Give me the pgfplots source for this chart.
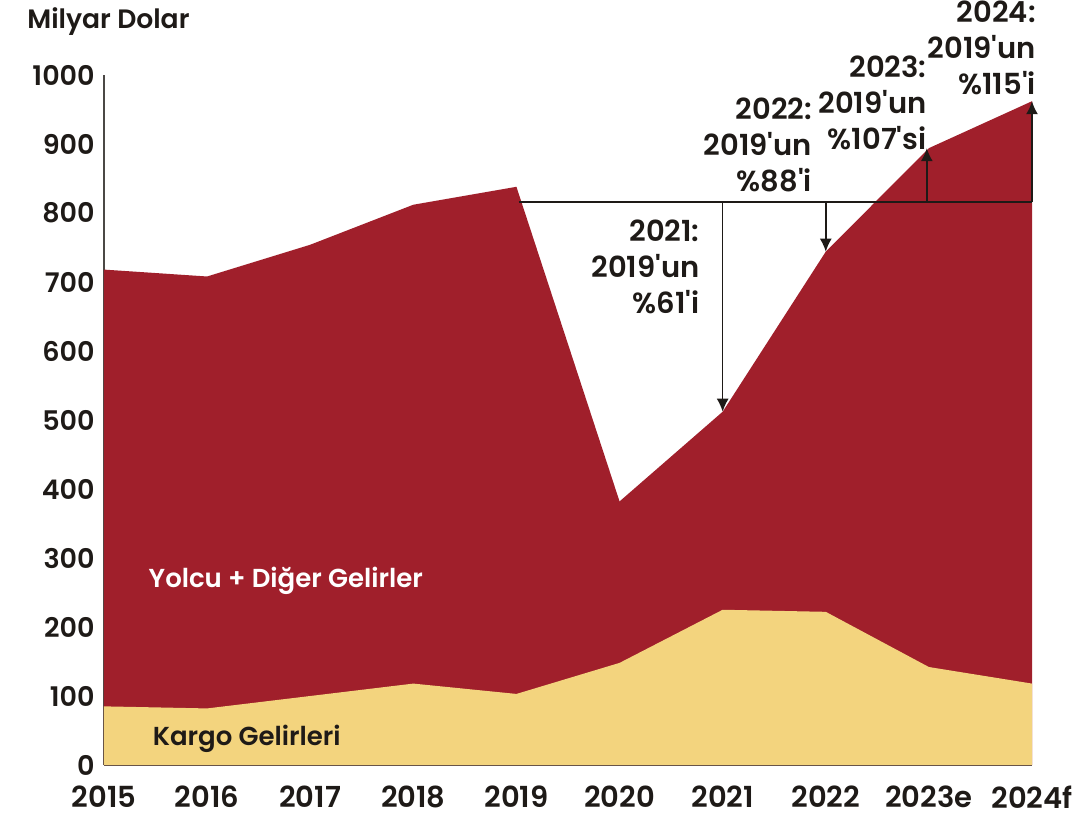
\documentclass[border=0pt]{standalone}
\usepackage{fontspec}
\usepackage{pgfplots}
\pgfplotsset{compat=1.18}
\usetikzlibrary{arrows.meta}
\setmainfont{Poppins}
\newfontfamily\pop{Poppins SemiBold}
\definecolor{pasred}{HTML}{A01F2B}
\definecolor{cargo}{HTML}{F3D47E}
\definecolor{ink}{HTML}{1E1A17}
\begin{document}
\begin{tikzpicture}
\begin{axis}[
  at={(0,0)}, anchor=south west,
  scale only axis, width=464pt, height=345pt,
  xmin=0, xmax=9, ymin=0, ymax=1000,
  axis x line=bottom, axis y line=left,
  x axis line style={-, line width=1.4pt, draw=ink!80},
  y axis line style={-, line width=0.7pt, draw=ink!80},
  xtick={0,...,9},
  xticklabels={2015,2016,2017,2018,2019,2020,2021,2022,2023e,2024f},
  ytick={0,100,...,1000},
  major tick length=0pt,
  /pgf/number format/assume math mode=true,
  /pgf/number format/1000 sep={},
  yticklabel style={font=\pop\fontsize{13.5}{13.5}\selectfont, text=ink, inner sep=0pt, xshift=-4.5pt},
  xticklabel style={font=\pop\fontsize{14.5}{14.5}\selectfont, text=ink, inner sep=0pt, yshift=-10pt},
  clip=false,
]
\addplot[fill=pasred, draw=none] coordinates {
 (0,0) (0,718) (1,708) (2,754) (3,812) (4,838) (5,382) (6,512) (7,744) (8,894) (9,962) (9,0)} -- cycle;
\addplot[fill=cargo, draw=none] coordinates {
 (0,0) (0,85) (1,82) (2,100) (3,118) (4,103) (5,148) (6,225) (7,222) (8,142) (9,118) (9,0)} -- cycle;
% reference line and arrows
\draw[ink, line width=0.75pt] (axis cs:4.02,816) -- (axis cs:9,816);
\draw[ink, line width=0.75pt, -{Latex[length=6.5pt,width=6pt]}] (axis cs:6,816) -- (axis cs:6,512);
\draw[ink, line width=0.75pt, -{Latex[length=6.5pt,width=6pt]}] (axis cs:7,816) -- (axis cs:7,744);
\draw[ink, line width=0.75pt, -{Latex[length=6.5pt,width=6pt]}] (axis cs:7.98,816) -- (axis cs:7.98,894);
\draw[ink, line width=0.75pt, -{Latex[length=6.5pt,width=6pt]}] (axis cs:9,816) -- (axis cs:9,962);
% annotations
\tikzset{ann/.style={anchor=east, align=right, inner sep=0pt, text=ink, font=\pop\fontsize{14.5}{18}\selectfont}}
\node[ann] at (axis cs:5.78,722) {2021:\\2019'un\\\%61'i};
\node[ann] at (axis cs:6.87,898) {2022:\\2019'un\\\%88'i};
\node[ann] at (axis cs:7.98,960) {2023:\\2019'un\\\%107'si};
\node[ann] at (axis cs:9.04,1040) {2024:\\2019'un\\\%115'i};
\node[anchor=west, inner sep=0pt, text=white, font=\pop\fontsize{13}{13}\selectfont] at (axis cs:0.43,267) {Yolcu + Diğer Gelirler};
\node[anchor=west, inner sep=0pt, text=ink, font=\pop\fontsize{13}{13}\selectfont] at (axis cs:0.47,38) {Kargo Gelirleri};
\end{axis}
\node[anchor=west, inner sep=0pt, text=ink, font=\pop\fontsize{13.3}{13.3}\selectfont] at (-38.5pt,371.5pt) {Milyar Dolar};
\pgfresetboundingbox
\path[use as bounding box] (-52pt,-25.5pt) rectangle (493.5pt,382.5pt);
\end{tikzpicture}
\end{document}
